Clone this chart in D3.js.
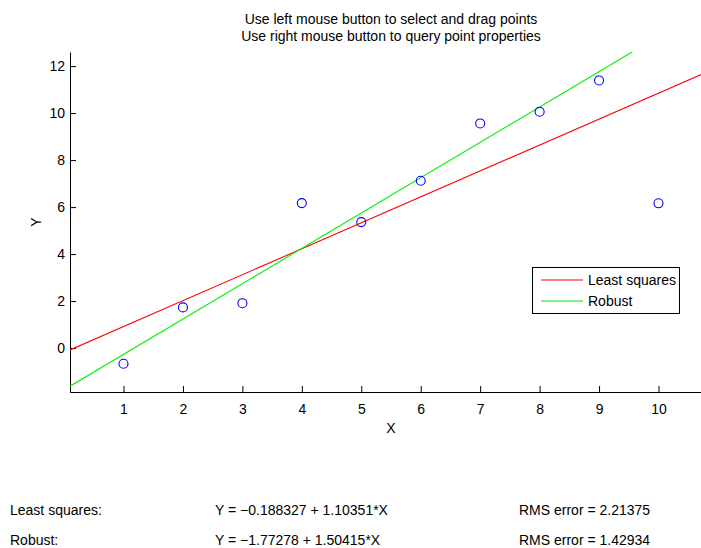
<!DOCTYPE html>
<html>
<head>
<meta charset="utf-8">
<script src="https://cdn.jsdelivr.net/npm/d3@7"></script>
<style>
  html, body { margin: 0; padding: 0; background: #fff; }
  svg { display: block; }
  text { font-family: "Liberation Sans", Arial, Helvetica, sans-serif; font-size: 14px; fill: #000; }
</style>
</head>
<body>
<div id="chart"></div>
<script>
// Sample points dragged by the user
const xValues = [1, 2, 3, 4, 5, 6, 7, 8, 9, 10];
const yValues = [-0.67, 1.73, 1.91, 6.17, 5.36, 7.12, 9.56, 10.06, 11.39, 6.16];

// Fitted lines: [intercept, slope]
const fitNames = ["Least squares", "Robust"];
const fitIntercepts = [-0.188327, -1.77278];
const fitSlopes = [1.10351, 1.50415];
const fitRms = ["2.21375", "1.42934"];
const fitColors = ["#ff0000", "#00ee00"];

// Axis ticks and limits
const xTicks = [1, 2, 3, 4, 5, 6, 7, 8, 9, 10];
const yTicks = [0, 2, 4, 6, 8, 10, 12];
const xLimits = [0.1, 10.9];
const yLimits = [-1.87, 12.6];

const titleLines = [
  "Use left mouse button to select and drag points",
  "Use right mouse button to query point properties"
];

const W = 701, H = 548;
const plot = { left: 70, right: 712, top: 52, bottom: 392 };

const svg = d3.select("#chart").append("svg")
  .attr("width", W).attr("height", H);

const x = d3.scaleLinear().domain(xLimits).range([plot.left, plot.right]);
const y = d3.scaleLinear().domain(yLimits).range([plot.bottom, plot.top]);

svg.append("clipPath").attr("id", "plot-clip")
  .append("rect")
  .attr("x", plot.left).attr("y", plot.top)
  .attr("width", plot.right - plot.left).attr("height", plot.bottom - plot.top);

// Axes (ticks pointing inward)
const xAxis = d3.axisBottom(x).tickValues(xTicks).tickSizeInner(-6).tickSizeOuter(0).tickPadding(12);
const yAxis = d3.axisLeft(y).tickValues(yTicks).tickSizeInner(-6).tickSizeOuter(0).tickPadding(5);

const gx = svg.append("g").attr("transform", `translate(0,${plot.bottom})`).call(xAxis);
const gy = svg.append("g").attr("transform", `translate(${plot.left},0)`).call(yAxis);
[gx, gy].forEach(g => {
  g.selectAll("text").style("font-size", "14px").attr("fill", "#000")
    .style("font-family", '"Liberation Sans", Arial, sans-serif');
  g.selectAll("path, line").attr("stroke", "#000");
});

// Fit lines
const fitG = svg.append("g").attr("clip-path", "url(#plot-clip)");
fitNames.forEach((name, i) => {
  const b = fitIntercepts[i], m = fitSlopes[i];
  fitG.append("line")
    .attr("x1", x(xLimits[0])).attr("y1", y(b + m * xLimits[0]))
    .attr("x2", x(xLimits[1])).attr("y2", y(b + m * xLimits[1]))
    .attr("stroke", fitColors[i]).attr("stroke-width", 1.1);
});

// Data markers
svg.append("g").selectAll("circle")
  .data(xValues.map((v, i) => [v, yValues[i]]))
  .join("circle")
  .attr("cx", d => x(d[0])).attr("cy", d => y(d[1]))
  .attr("r", 4.5)
  .attr("fill", "none").attr("stroke", "#0000ff").attr("stroke-width", 1.1);

// Title
const cx = (plot.left + plot.right) / 2;
titleLines.forEach((t, i) => {
  svg.append("text").attr("x", cx).attr("y", 24 + i * 17)
    .attr("text-anchor", "middle").text(t);
});

// Axis labels
svg.append("text").attr("x", cx).attr("y", 433).attr("text-anchor", "middle").text("X");
svg.append("text").attr("transform", "translate(40.5,222) rotate(-90)")
  .attr("text-anchor", "middle").text("Y");

// Legend
const lg = svg.append("g");
lg.append("rect").attr("x", 532.5).attr("y", 267.5).attr("width", 147).attr("height", 46)
  .attr("fill", "#fff").attr("stroke", "#000").attr("stroke-width", 1);
fitNames.forEach((name, i) => {
  const ly = 280 + i * 21;
  lg.append("line").attr("x1", 541).attr("x2", 583).attr("y1", ly).attr("y2", ly)
    .attr("stroke", fitColors[i]).attr("stroke-width", 1.1);
  lg.append("text").attr("x", 588).attr("y", ly + 5).text(name);
});

// Fit summary
const fmt = (b, m) => `Y = ${String(b).replace("-", "\u2212")} + ${m}*X`;
fitNames.forEach((name, i) => {
  const ty = 515 + i * 30;
  svg.append("text").attr("x", 10).attr("y", ty).text(name + ":");
  svg.append("text").attr("x", 215).attr("y", ty).text(fmt(fitIntercepts[i], fitSlopes[i]));
  svg.append("text").attr("x", 519).attr("y", ty).text("RMS error = " + fitRms[i]);
});
</script>
</body>
</html>
